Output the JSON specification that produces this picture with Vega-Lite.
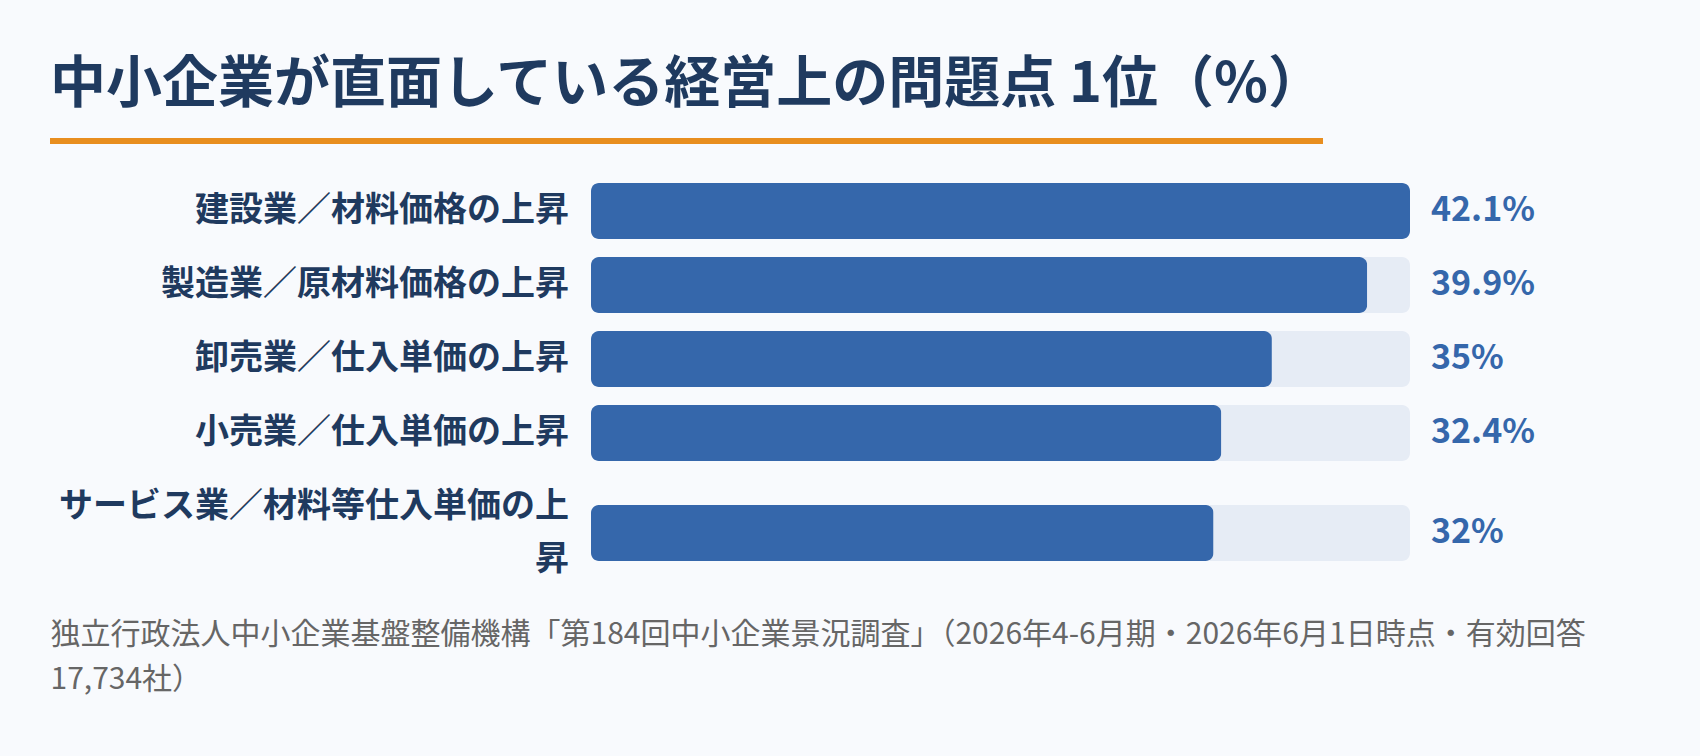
{
  "$schema": "https://vega.github.io/schema/vega-lite/v6.json",
  "description": "中小企業が直面している経営上の問題点 1位 (業種別, %)",
  "background": "#f8fafd",
  "padding": {"left": 50, "right": 50, "top": 57, "bottom": 64},
  "bounds": "flush",
  "spacing": 39,
  "title": {
    "text": "中小企業が直面している経営上の問題点 1位（%）",
    "anchor": "start",
    "font": "Noto Sans CJK JP",
    "fontSize": 56,
    "fontWeight": "bold",
    "color": "#1f3a5f",
    "offset": 24
  },
  "data": {
    "values": [
      {"category": "建設業／材料価格の上昇", "value": 42.1},
      {"category": "製造業／原材料価格の上昇", "value": 39.9},
      {"category": "卸売業／仕入単価の上昇", "value": 35},
      {"category": "小売業／仕入単価の上昇", "value": 32.4},
      {"category": "サービス業／材料等仕入単価の上昇", "value": 32}
    ]
  },
  "vconcat": [
    {
      "width": 1273,
      "height": 6,
      "mark": {"type": "rect", "color": "#e88e1f"},
      "encoding": {}
    },
    {
      "width": 1600,
      "height": 378,
      "transform": [
        {"joinaggregate": [{"op": "max", "field": "value", "as": "max"}]},
        {"calculate": "length(datum.category) > 15 ? [substring(datum.category, 0, 15), substring(datum.category, 15)] : datum.category", "as": "label"},
        {"calculate": "datum.value + '%'", "as": "valueText"}
      ],
      "encoding": {
        "x": {
          "type": "quantitative",
          "scale": {"range": [541, 1360], "nice": false, "zero": true},
          "axis": {
            "labels": false,
            "ticks": false,
            "domain": false,
            "grid": false,
            "title": [
              "独立行政法人中小企業基盤整備機構「第184回中小企業景況調査」（2026年4-6月期・2026年6月1日時点・有効回答",
              "17,734社）"
            ],
            "titleX": 0,
            "titleY": 82,
            "titleAlign": "left",
            "titleAnchor": "start",
            "titleBaseline": "alphabetic",
            "titleFont": "Noto Sans CJK JP",
            "titleFontSize": 30,
            "titleFontWeight": "normal",
            "titleColor": "#666666",
            "titleLineHeight": 45
          }
        }
      },
      "layer": [
        {
          "transform": [{"filter": "length(datum.category) <= 15"}],
          "encoding": {
            "y": {
              "field": "category",
              "type": "nominal",
              "sort": null,
              "axis": null,
              "scale": {"paddingInner": 0.2432, "paddingOuter": 0.6757, "align": 0}
            }
          },
          "layer": [
            {
              "mark": {"type": "bar", "color": "#e6ecf5", "cornerRadius": 8},
              "encoding": {"x": {"field": "max", "type": "quantitative"}}
            },
            {
              "mark": {"type": "bar", "color": "#3567ab", "cornerRadius": 8},
              "encoding": {"x": {"field": "value", "type": "quantitative"}}
            },
            {
              "mark": {"type": "text", "align": "right", "baseline": "middle", "dx": -22, "font": "Noto Sans CJK JP", "fontSize": 34, "fontWeight": "bold", "color": "#1f3a5f", "lineHeight": 54},
              "encoding": {"x": {"datum": 0, "type": "quantitative"}, "text": {"field": "label"}}
            },
            {
              "mark": {"type": "text", "align": "left", "baseline": "middle", "dx": 21, "font": "Noto Sans CJK JP", "fontSize": 34, "fontWeight": "bold", "color": "#3567ab"},
              "encoding": {"x": {"field": "max", "type": "quantitative"}, "text": {"field": "valueText"}}
            }
          ]
        },
        {
          "transform": [{"filter": "length(datum.category) > 15"}],
          "encoding": {
            "y": {
              "field": "category",
              "type": "nominal",
              "sort": null,
              "axis": null,
              "scale": {"paddingInner": 0.652, "paddingOuter": 1, "align": 1}
            }
          },
          "layer": [
            {
              "mark": {"type": "bar", "color": "#e6ecf5", "cornerRadius": 8},
              "encoding": {"x": {"field": "max", "type": "quantitative"}}
            },
            {
              "mark": {"type": "bar", "color": "#3567ab", "cornerRadius": 8},
              "encoding": {"x": {"field": "value", "type": "quantitative"}}
            },
            {
              "mark": {"type": "text", "align": "right", "baseline": "middle", "dx": -22, "dy": -26, "font": "Noto Sans CJK JP", "fontSize": 34, "fontWeight": "bold", "color": "#1f3a5f", "lineHeight": 53},
              "encoding": {"x": {"datum": 0, "type": "quantitative"}, "text": {"field": "label"}}
            },
            {
              "mark": {"type": "text", "align": "left", "baseline": "middle", "dx": 21, "font": "Noto Sans CJK JP", "fontSize": 34, "fontWeight": "bold", "color": "#3567ab"},
              "encoding": {"x": {"field": "max", "type": "quantitative"}, "text": {"field": "valueText"}}
            }
          ]
        }
      ],
      "resolve": {"scale": {"y": "independent"}}
    }
  ],
  "config": {
    "view": {"stroke": null}
  }
}
